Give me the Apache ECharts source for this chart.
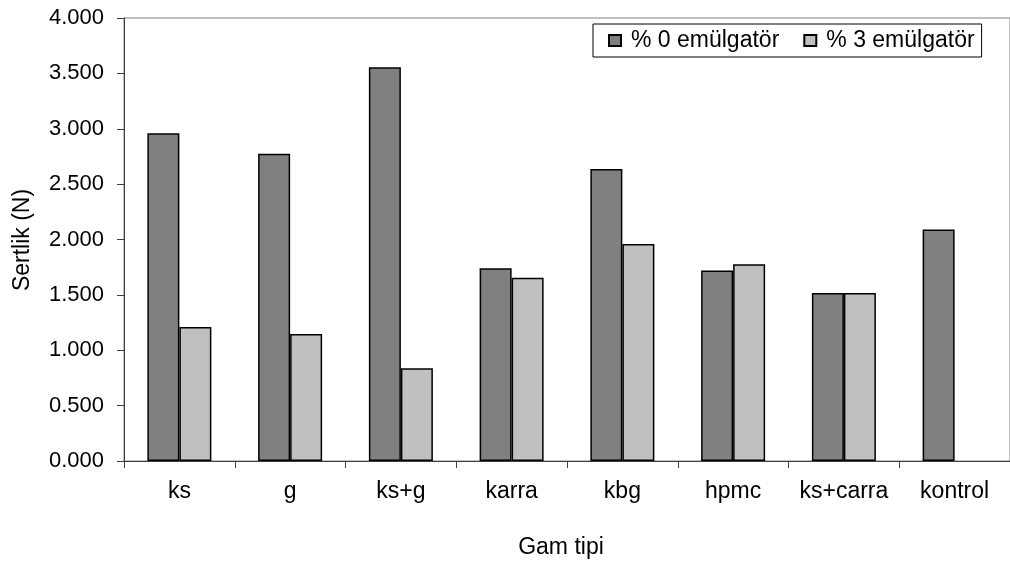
<!DOCTYPE html>
<html>
<head>
<meta charset="utf-8">
<script src="https://cdn.jsdelivr.net/npm/echarts@6/dist/echarts.min.js"></script>
<style>
  html, body { margin: 0; padding: 0; background: #ffffff; }
  #chart { width: 1010px; height: 565px; }
</style>
</head>
<body>
<div id="chart"></div>
<script>
// Sertlik (N) by gum type, with and without emulsifier
const categories = ['ks', 'g', 'ks+g', 'karra', 'kbg', 'hpmc', 'ks+carra', 'kontrol'];
const seriesNames = ['% 0 emülgatör', '% 3 emülgatör'];
const emulsifier0 = [2.960, 2.775, 3.555, 1.740, 2.637, 1.720, 1.517, 2.090];
const emulsifier3 = [1.210, 1.147, 0.837, 1.655, 1.960, 1.776, 1.517, null];
const yTicks = { min: 0, max: 4, interval: 0.5 };
const xTitle = 'Gam tipi';
const yTitle = 'Sertlik (N)';

const FONT = '"Liberation Sans", Arial, sans-serif';
const FS = 23;

const chart = echarts.init(document.getElementById('chart'), null, { renderer: 'canvas' });

const barStyle = (color) => ({ color: color, borderColor: '#000000', borderWidth: 1.5 });

chart.setOption({
  animation: false,
  backgroundColor: '#ffffff',
  textStyle: { fontFamily: FONT },
  grid: {
    left: 124, top: 18, bottom: 104, right: -8,
    show: true, borderColor: '#808080', borderWidth: 1
  },
  legend: {
    left: 593, top: 24,
    padding: [5, 7, 5, 15],
    itemGap: 24,
    itemWidth: 12, itemHeight: 11,
    icon: 'rect',
    borderColor: '#000000', borderWidth: 1,
    backgroundColor: '#ffffff',
    textStyle: { fontFamily: FONT, fontSize: FS, color: '#000000', padding: [0, 0, 0, 5] },
    data: seriesNames
  },
  xAxis: {
    type: 'category',
    data: categories,
    axisLine: { lineStyle: { color: '#404040', width: 1 } },
    axisTick: { show: true, interval: 0, length: 7, lineStyle: { color: '#404040' } },
    axisLabel: { interval: 0, hideOverlap: false, fontFamily: FONT, fontSize: FS, color: '#000000', margin: 19 },
    splitLine: { show: false }
  },
  yAxis: {
    type: 'value',
    min: yTicks.min, max: yTicks.max, interval: yTicks.interval,
    axisLine: { show: true, lineStyle: { color: '#404040', width: 1 } },
    axisTick: { show: true, length: 7, lineStyle: { color: '#404040' } },
    axisLabel: {
      fontFamily: FONT, fontSize: 22, color: '#000000', margin: 20,
      formatter: (v) => v.toFixed(3)
    },
    splitLine: { show: false }
  },
  // axis titles
  graphic: [
    {
      type: 'text', x: 561, y: 548,
      style: { text: xTitle, font: FS + 'px ' + FONT, fill: '#000000', align: 'center', verticalAlign: 'middle' },
      z: 10
    },
    {
      type: 'text', x: 23, y: 240, rotation: Math.PI / 2,
      style: { text: yTitle, font: FS + 'px ' + FONT, fill: '#000000', align: 'center', verticalAlign: 'middle' },
      z: 10
    }
  ],
  series: [
    {
      name: seriesNames[0], type: 'bar', data: emulsifier0,
      barWidth: 32, barGap: '0%',
      itemStyle: barStyle('#808080')
    },
    {
      name: seriesNames[1], type: 'bar', data: emulsifier3,
      barWidth: 32, barGap: '0%',
      itemStyle: barStyle('#c0c0c0')
    }
  ]
});
</script>
</body>
</html>
